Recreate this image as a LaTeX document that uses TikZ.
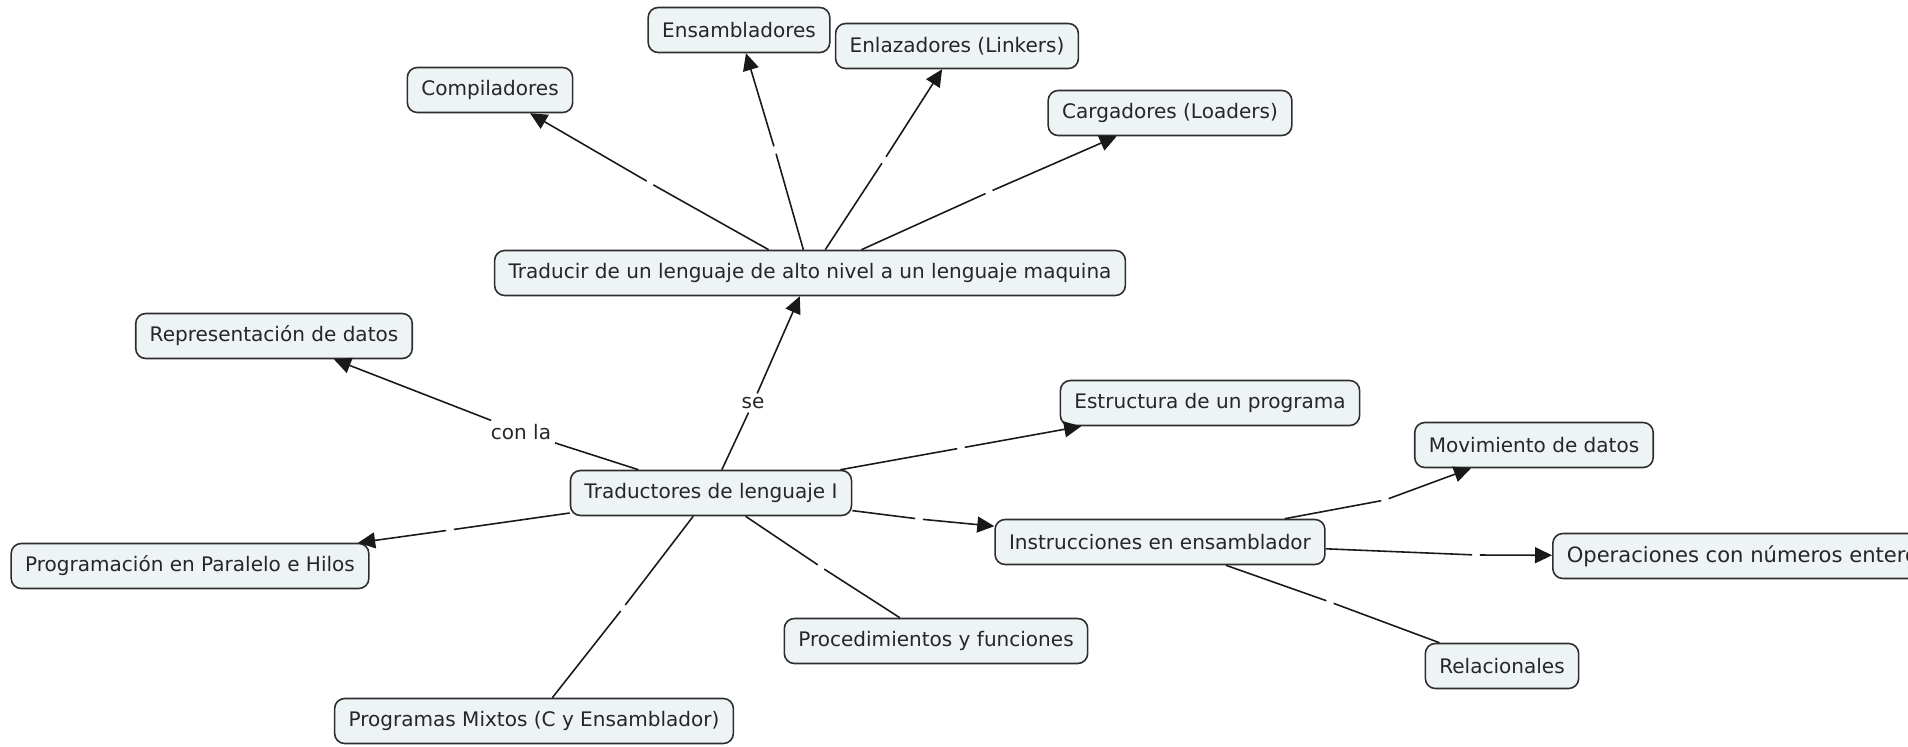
\documentclass[tikz,border=0pt]{standalone}
\usepackage{fontspec}
\setmainfont{DejaVu Sans}
\usetikzlibrary{arrows.meta}
\definecolor{conceptfill}{HTML}{EEF3F5}
\definecolor{conceptline}{HTML}{2E2E2E}

\begin{document}
\begin{tikzpicture}[
      x=0.02cm, y=-0.02cm,
      >={Triangle[length=0.34cm, width=0.32cm]},
      concept/.style={rectangle, draw=conceptline, line width=0.9pt, fill=conceptfill, rounded corners=0.2cm, minimum height=0.9cm, inner xsep=0.28cm, text=black!85, font=\fontsize{11.4}{13.7}\selectfont},
      gap/.style={circle, inner sep=0pt, minimum size=0.14cm},
      linklabel/.style={inner sep=2pt, text=black!85, font=\fontsize{11.4}{13.7}\selectfont},
      conn/.style={line width=0.9pt, draw=black!90}
    ]
      \clip (0,0) rectangle (1908,747);

      % Center
      \node[concept] (traductores) at (711,493) {Traductores de lenguaje I};
      \node[concept] (traducir) at (810,273) {Traducir de un lenguaje de alto nivel a un lenguaje maquina};

      % Upper group
      \node[concept] (compiladores) at (490,90) {Compiladores};
      \node[concept] (ensambladores) at (739,30) {Ensambladores};
      \node[concept] (enlazadores) at (957,46) {Enlazadores (Linkers)};
      \node[concept] (cargadores) at (1170,113) {Cargadores (Loaders)};

      % Left and lower group
      \node[concept] (representacion) at (274,336) {Representación de datos};
      \node[concept] (paralelo) at (190,566) {Programación en Paralelo e Hilos};
      \node[concept] (mixtos) at (534,721) {Programas Mixtos (C y Ensamblador)};
      \node[concept] (procedimientos) at (936,641) {Procedimientos y funciones};
      \node[concept] (estructura) at (1210,403) {Estructura de un programa};

      % Assembler group
      \node[concept] (instrucciones) at (1160,542) {Instrucciones en ensamblador};
      \node[concept] (movimiento) at (1534,445) {Movimiento de datos};
      \node[concept, anchor=west, font=\fontsize{12}{14.4}\selectfont] (operaciones) at (1552,556) {Operaciones con números enteros};
      \node[concept] (relacionales) at (1502,666) {Relacionales};

      % Link labels
      \node[linklabel] (se) at (753,403) {se};
      \node[linklabel] (conla) at (521,432) {con la};
      \node[gap] (g_comp) at (650,183) {};
      \node[gap] (g_ens) at (775,150) {};
      \node[gap] (g_enl) at (884,160) {};
      \node[gap] (g_carg) at (989,192) {};
      \node[gap] (g_estr) at (961,448) {};
      \node[gap] (g_instr) at (919,519) {};
      \node[gap] (g_par) at (450,530) {};
      \node[gap] (g_mix) at (623,608) {};
      \node[gap] (g_proc) at (821,567) {};
      \node[gap] (g_mov) at (1385,500) {};
      \node[gap] (g_oper) at (1476,555) {};
      \node[gap] (g_rel) at (1330,602) {};

      % Traducir links
      \draw[conn] (traducir) -- (g_comp);
      \draw[conn, ->] (g_comp) -- (compiladores);
      \draw[conn] (traducir) -- (g_ens);
      \draw[conn, ->] (g_ens) -- (ensambladores);
      \draw[conn] (traducir) -- (g_enl);
      \draw[conn, ->] (g_enl) -- (enlazadores);
      \draw[conn] (traducir) -- (g_carg);
      \draw[conn, ->] (g_carg) -- (cargadores);

      % Traductores links
      \draw[conn] (traductores) -- (se);
      \draw[conn, ->] (se) -- (traducir);
      \draw[conn] (traductores) -- (conla);
      \draw[conn, ->] (conla) -- (representacion);
      \draw[conn] (traductores) -- (g_estr);
      \draw[conn, ->] (g_estr) -- (estructura);
      \draw[conn] (traductores) -- (g_instr);
      \draw[conn, ->] (g_instr) -- (instrucciones);
      \draw[conn] (traductores) -- (g_par);
      \draw[conn, ->] (g_par) -- (paralelo);
      \draw[conn] (traductores) -- (g_mix);
      \draw[conn] (g_mix) -- (mixtos);
      \draw[conn] (traductores) -- (g_proc);
      \draw[conn] (g_proc) -- (procedimientos);

      % Instrucciones links
      \draw[conn] (instrucciones) -- (g_mov);
      \draw[conn, ->] (g_mov) -- (movimiento);
      \draw[conn] (instrucciones) -- (g_oper);
      \draw[conn, ->] (g_oper) -- (operaciones);
      \draw[conn] (instrucciones) -- (g_rel);
      \draw[conn] (g_rel) -- (relacionales);
    \end{tikzpicture}
\end{document}
